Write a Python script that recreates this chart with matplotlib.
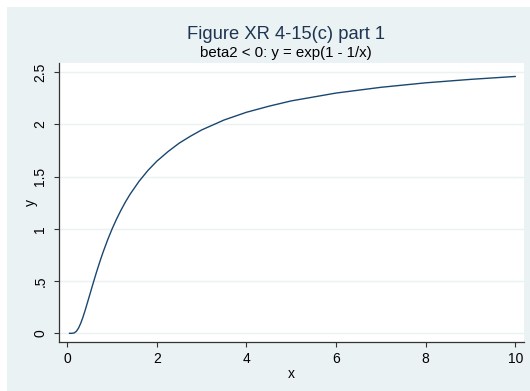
import matplotlib
matplotlib.use("Agg")
import matplotlib.pyplot as plt
from matplotlib.patches import Rectangle

# values
x_vals = [0.05, 0.1, 0.15, 0.2, 0.25, 0.3, 0.35, 0.4, 0.45, 0.5, 0.55, 0.6, 0.65,
          0.7, 0.75, 0.8, 0.9, 1.0, 1.1, 1.2, 1.3, 1.4, 1.6, 1.8, 2.0, 2.25, 2.5,
          2.75, 3.0, 3.5, 4.0, 4.5, 5.0, 6.0, 7.0, 8.0, 9.0, 10.0]
y_vals = [0.0, 0.0001, 0.0035, 0.0183, 0.0498, 0.097, 0.156, 0.223, 0.295, 0.368,
          0.441, 0.513, 0.584, 0.651, 0.717, 0.779, 0.895, 1.0, 1.095, 1.181,
          1.260, 1.331, 1.455, 1.560, 1.649, 1.741, 1.822, 1.888, 1.948, 2.043,
          2.117, 2.175, 2.226, 2.301, 2.356, 2.399, 2.432, 2.460]
xticks = [0, 2, 4, 6, 8, 10]
yticks = [0, 0.5, 1, 1.5, 2, 2.5]
ytick_labels = ["0", ".5", "1", "1.5", "2", "2.5"]

plt.rcParams['font.family'] = ['Liberation Sans', 'DejaVu Sans']

W, H = 530, 391
fig = plt.figure(figsize=(W / 100, H / 100), dpi=100, facecolor='white')
# stata style light blue panel behind the plot
fig.patches.append(Rectangle((7 / W, 0), 1 - 7 / W, 1 - 7 / H, transform=fig.transFigure,
                             facecolor='#eaf2f3', edgecolor='none', zorder=-5))

ax = fig.add_axes([59.3 / W, 1 - 342 / H, (523.7 - 59.3) / W, (342 - 63.3) / H])
ax.set_zorder(2)
ax.set_facecolor('white')
ax.plot(x_vals, y_vals, color='#1a476f', lw=1.0, zorder=3)

ax.set_xlim(-0.179, 10.19)
ax.set_ylim(-0.083, 2.586)
ax.set_xticks(xticks)
ax.set_yticks(yticks)
ax.set_yticklabels(ytick_labels, rotation=90, va='center')
for v in yticks:
    ax.axhline(v, color='#eaf2f3', lw=1.0, zorder=1)

for s in ['top', 'right']:
    ax.spines[s].set_visible(False)
for s in ['left', 'bottom']:
    ax.spines[s].set_color('#333333')
    ax.spines[s].set_linewidth(0.9)
ax.tick_params(axis='x', direction='out', length=3.5, width=0.8, color='#333333',
               labelsize=10, pad=3.5)
ax.tick_params(axis='y', direction='out', length=3.5, width=0.8, color='#333333',
               labelsize=10, pad=5)
ax.set_xlabel('x', fontsize=10, labelpad=1)
ax.set_ylabel('y', fontsize=10, labelpad=-3)

fig.text(286 / W, 1 - 39 / H, 'Figure XR 4-15(c) part 1', ha='center', va='baseline',
         fontsize=13.2, color='#1e3552')
fig.text(286 / W, 1 - 57.5 / H, 'beta2 < 0: y = exp(1 - 1/x)', ha='center', va='baseline',
         fontsize=10.8, color='black')

fig.savefig('out.png', dpi=100, facecolor=fig.get_facecolor())
